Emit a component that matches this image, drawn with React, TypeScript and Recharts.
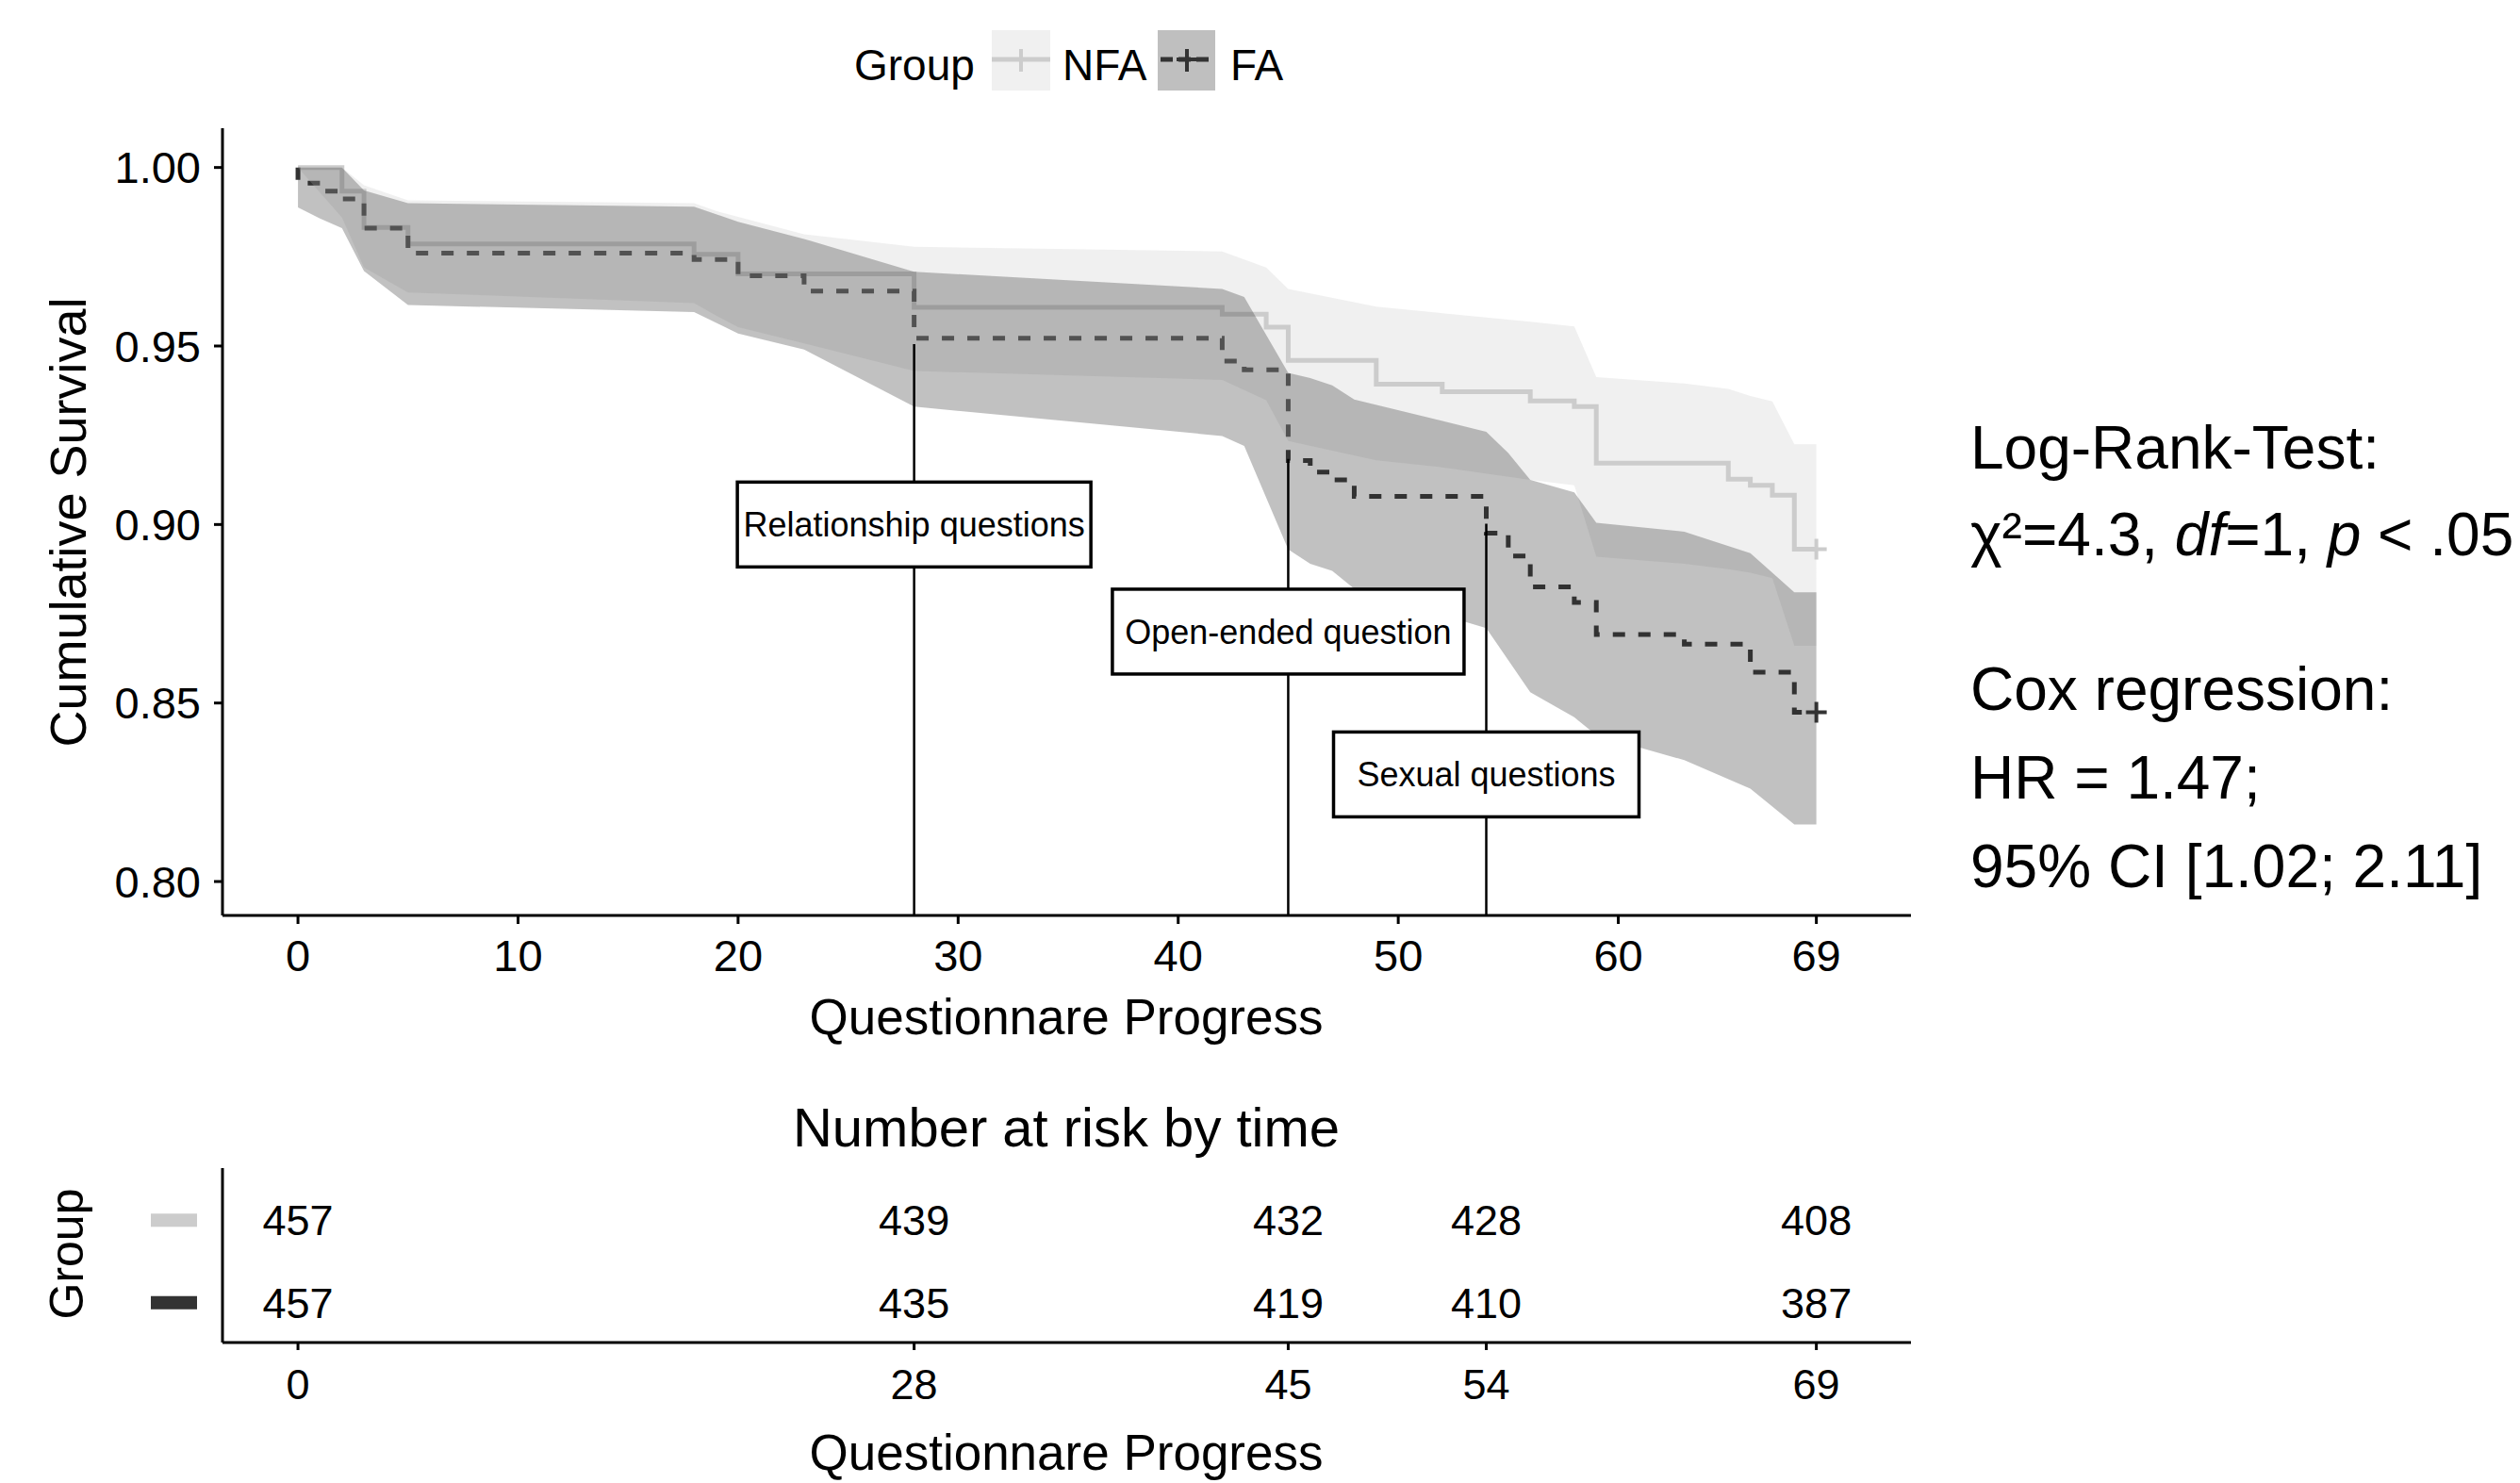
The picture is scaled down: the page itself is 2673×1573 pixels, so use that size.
import React from 'react';
import { ComposedChart, Line, Area, XAxis, YAxis, Scatter, ReferenceLine } from 'recharts';

const FONT = '"Liberation Sans", Arial, Helvetica, sans-serif';

// ---------- Kaplan-Meier step curves ----------
const nfaTimes = [0, 2, 3, 5, 18, 20, 28, 42, 44, 45, 49, 52, 56, 58, 59, 65, 66, 67, 68, 69];
const nfaSurv = [1.0, 0.9934, 0.9832, 0.9786, 0.9757, 0.9702, 0.9608, 0.9589, 0.9553, 0.946, 0.9393, 0.9372, 0.9346, 0.933, 0.9172, 0.9127, 0.911, 0.9082, 0.8931, 0.8931];

const faTimes = [0, 0, 1, 2, 3, 5, 18, 20, 23, 28, 42, 43, 45, 46, 47, 48, 54, 55, 56, 58, 59, 63, 66, 68, 69];
const faSurv = [1.0, 0.9956, 0.9934, 0.9912, 0.983, 0.976, 0.9742, 0.9697, 0.9654, 0.9522, 0.9458, 0.9433, 0.9179, 0.9147, 0.9125, 0.9079, 0.8976, 0.8912, 0.8825, 0.8782, 0.8692, 0.8665, 0.8586, 0.8474, 0.8474];

// ---------- confidence bands ----------
const nfaBandTimes = [0, 2, 3, 5, 18, 19, 20, 23, 28, 42, 44, 45, 49, 52, 56, 58, 59, 63, 65, 66, 67, 68, 69];
const nfaLower = [1.0, 0.986, 0.972, 0.965, 0.962, 0.9585, 0.9553, 0.9507, 0.943, 0.9405, 0.9348, 0.9234, 0.918, 0.916, 0.9125, 0.911, 0.891, 0.889, 0.8875, 0.8865, 0.885, 0.866, 0.866];
const nfaUpper = [1.0, 1.0, 0.995, 0.9908, 0.99, 0.9878, 0.9862, 0.9813, 0.9778, 0.9765, 0.972, 0.966, 0.961, 0.9592, 0.9568, 0.9555, 0.9413, 0.9395, 0.938, 0.936, 0.9345, 0.9225, 0.9225];

const faBandTimes = [0, 1, 2, 3, 5, 18, 20, 23, 28, 42, 43, 45, 46, 47, 48, 54, 55, 56, 58, 59, 63, 66, 68, 69];
const faLower = [0.9888, 0.9857, 0.983, 0.971, 0.9615, 0.9595, 0.9535, 0.949, 0.933, 0.9248, 0.922, 0.893, 0.889, 0.887, 0.882, 0.871, 0.862, 0.853, 0.846, 0.841, 0.834, 0.826, 0.816, 0.816];
const faUpper = [1.0, 1.0, 1.0, 0.9936, 0.99, 0.989, 0.9848, 0.98, 0.9708, 0.966, 0.9637, 0.9425, 0.941, 0.939, 0.935, 0.926, 0.92, 0.9125, 0.909, 0.9005, 0.898, 0.892, 0.881, 0.881];

// ---------- censor marks ----------
const censorNFA = [{ x: 69, y: 0.8931 }];
const censorFA = [{ x: 69, y: 0.8474 }];

// ---------- axes ----------
const xTicks = [0, 10, 20, 30, 40, 50, 60, 69];
const yTicks = [0.8, 0.85, 0.9, 0.95, 1.0];

// ---------- annotations ----------
const annoTimes = [28, 45, 54];
const annoLineTop = [0.9505, 0.9184, 0.9002];
const annoLabelY = [0.9, 0.87, 0.83];
const annoLabels = ['Relationship questions', 'Open-ended question', 'Sexual questions'];

// ---------- number at risk ----------
const riskTimes = [0, 28, 45, 54, 69];
const riskNFA = [457, 439, 432, 428, 408];
const riskFA = [457, 435, 419, 410, 387];

// ---------- layout / style constants ----------
const X_DOMAIN: [number, number] = [-3.43, 73.3];
const Y_DOMAIN: [number, number] = [0.7905, 1.011];
const RISK_Y_DOMAIN: [number, number] = [0.517, 2.632];
const BOX_WIDTHS = [375, 373, 324];
const BOX_HEIGHT = 90;

const nfaLine = nfaTimes.map((t, i) => ({ x: t, s: nfaSurv[i] }));
const faLine = faTimes.map((t, i) => ({ x: t, s: faSurv[i] }));
const nfaBand = nfaBandTimes.map((t, i) => ({ x: t, band: [nfaLower[i], nfaUpper[i]] }));
const faBand = faBandTimes.map((t, i) => ({ x: t, band: [faLower[i], faUpper[i]] }));
const annotations = annoTimes.map((t, i) => ({ x: t, y: annoLabelY[i], label: annoLabels[i], idx: i }));
const riskData = [
  ...riskTimes.map((t, i) => ({ x: t, y: 2, n: riskNFA[i] })),
  ...riskTimes.map((t, i) => ({ x: t, y: 1, n: riskFA[i] })),
];

function LabelBox(props: any) {
  const { cx, cy, payload } = props;
  if (cx == null || cy == null || !payload) return null;
  const w = BOX_WIDTHS[payload.idx] || 340;
  const h = BOX_HEIGHT;
  return (
    <g>
      <rect x={cx - w / 2} y={cy - h / 2} width={w} height={h} fill="#ffffff" stroke="#000000" strokeWidth={3.5} />
      <text x={cx} y={cy} dy="0.355em" textAnchor="middle" fontSize={36} fontFamily={FONT} fill="#000000">
        {payload.label}
      </text>
    </g>
  );
}

const makePlus = (color: string) => (props: any) => {
  const { cx, cy } = props;
  if (cx == null || cy == null) return null;
  return (
    <path d={`M${cx - 11},${cy}H${cx + 11}M${cx},${cy - 11}V${cy + 11}`} stroke={color} strokeWidth={4} fill="none" />
  );
};
const PlusNFA = makePlus('#cccccc');
const PlusFA = makePlus('#333333');

function RiskText(props: any) {
  const { cx, cy, payload } = props;
  if (cx == null || cy == null || !payload) return null;
  return (
    <text x={cx} y={cy} dy="0.355em" textAnchor="middle" fontSize={45} fontFamily={FONT} fill="#000000">
      {payload.n}
    </text>
  );
}

function SwatchTick(props: any) {
  const { x, y, payload } = props;
  const color = payload && payload.value === 2 ? '#cccccc' : '#333333';
  return <rect x={x - 76} y={y - 7} width={49} height={14} fill={color} />;
}

const axisStyle = { stroke: '#000000', strokeWidth: 3 };
const tickText = { fontSize: 47, fill: '#000000', fontFamily: FONT };

export default function App() {
  return (
    <div style={{ position: 'absolute', left: 0, top: 0, width: 2673, height: 1573, background: '#ffffff', overflow: 'hidden', fontFamily: FONT }}>
      <div style={{ position: 'absolute', left: 0, top: 0 }}>
        <ComposedChart width={2673} height={1150} margin={{ top: 136, right: 646, bottom: 119, left: 0 }}>
          <XAxis
            type="number"
            dataKey="x"
            domain={X_DOMAIN}
            allowDataOverflow
            ticks={xTicks}
            interval={0}
            height={60}
            tickSize={9}
            tickMargin={17}
            axisLine={axisStyle}
            tickLine={axisStyle}
            tick={tickText}
          />
          <YAxis
            type="number"
            domain={Y_DOMAIN}
            allowDataOverflow
            ticks={yTicks}
            interval={0}
            width={236}
            tickSize={9}
            tickMargin={14}
            tickFormatter={(v: number) => v.toFixed(2)}
            axisLine={axisStyle}
            tickLine={axisStyle}
            tick={tickText}
          />
          <Line data={nfaLine} dataKey="s" type="stepAfter" stroke="#cccccc" strokeWidth={5} dot={false} activeDot={false} isAnimationActive={false} zIndex={50} />
          <Line data={faLine} dataKey="s" type="stepAfter" stroke="#333333" strokeWidth={5} strokeDasharray="13 14" dot={false} activeDot={false} isAnimationActive={false} zIndex={51} />
          <Area data={nfaBand} dataKey="band" type="linear" fill="#cccccc" fillOpacity={0.3} stroke="none" dot={false} activeDot={false} isAnimationActive={false} zIndex={100} />
          <Area data={faBand} dataKey="band" type="linear" fill="#333333" fillOpacity={0.3} stroke="none" dot={false} activeDot={false} isAnimationActive={false} zIndex={101} />
          {annoTimes.map((t, i) => (
            <ReferenceLine
              key={`ref-${i}`}
              segment={[{ x: t, y: annoLineTop[i] }, { x: t, y: Y_DOMAIN[0] }]}
              stroke="#000000"
              strokeWidth={2.5}
              zIndex={550}
            />
          ))}
          <Scatter data={censorNFA} dataKey="y" shape={PlusNFA} isAnimationActive={false} zIndex={600} />
          <Scatter data={censorFA} dataKey="y" shape={PlusFA} isAnimationActive={false} zIndex={601} />
          <Scatter data={annotations} dataKey="y" shape={LabelBox} isAnimationActive={false} zIndex={700} />
        </ComposedChart>
      </div>

      <div style={{ position: 'absolute', left: 0, top: 1150 }}>
        <ComposedChart width={2673} height={423} margin={{ top: 89, right: 646, bottom: 89, left: 0 }}>
          <XAxis
            type="number"
            dataKey="x"
            domain={X_DOMAIN}
            allowDataOverflow
            ticks={riskTimes}
            interval={0}
            height={60}
            tickSize={8}
            tickMargin={20}
            axisLine={axisStyle}
            tickLine={axisStyle}
            tick={{ fontSize: 45, fill: '#000000', fontFamily: FONT }}
          />
          <YAxis
            type="number"
            domain={RISK_Y_DOMAIN}
            allowDataOverflow
            ticks={[1, 2]}
            interval={0}
            width={236}
            tickSize={0}
            tickMargin={0}
            tickLine={false}
            axisLine={axisStyle}
            tick={<SwatchTick />}
          />
          <Scatter data={riskData} dataKey="y" shape={RiskText} isAnimationActive={false} />
        </ComposedChart>
      </div>

      <svg width={2673} height={1573} style={{ position: 'absolute', left: 0, top: 0, pointerEvents: 'none' }} fontFamily={FONT}>
        {/* legend */}
        <text x={906} y={85} fontSize={46} fill="#000">Group</text>
        <rect x={1052} y={32} width={62} height={64} fill="#f0f0f0" />
        <line x1={1052} y1={63} x2={1114} y2={63} stroke="#cccccc" strokeWidth={5} />
        <path d="M1072,63H1094M1083,52V76" stroke="#cccccc" strokeWidth={4} />
        <text x={1127} y={85} fontSize={46} fill="#000">NFA</text>
        <rect x={1228} y={32} width={61} height={64} fill="#bfbfbf" />
        <line x1={1231} y1={63} x2={1287} y2={63} stroke="#333333" strokeWidth={5} strokeDasharray="13 6" />
        <path d="M1248,63H1270M1259,52V76" stroke="#333333" strokeWidth={4} />
        <text x={1305} y={85} fontSize={46} fill="#000">FA</text>

        {/* main axis titles */}
        <text x={1131} y={1097} fontSize={53} textAnchor="middle" fill="#000">Questionnare Progress</text>
        <text x={91} y={554} fontSize={54} textAnchor="middle" fill="#000" transform="rotate(-90 91 554)">Cumulative Survival</text>

        {/* statistics */}
        <text x={2090} y={497} fontSize={64} fill="#000">Log-Rank-Test:</text>
        <text x={2090} y={589} fontSize={64} fill="#000">
          <tspan>χ²=4.3, </tspan>
          <tspan fontStyle="italic">df</tspan>
          <tspan>=1, </tspan>
          <tspan fontStyle="italic">p</tspan>
          <tspan> &lt; .05</tspan>
        </text>
        <text x={2090} y={753} fontSize={64} fill="#000">Cox regression:</text>
        <text x={2090} y={847} fontSize={64} fill="#000">HR = 1.47;</text>
        <text x={2090} y={941} fontSize={64} fill="#000">95% CI [1.02; 2.11]</text>

        {/* risk table titles */}
        <text x={1131} y={1216} fontSize={58} textAnchor="middle" fill="#000">Number at risk by time</text>
        <text x={88} y={1330} fontSize={50} textAnchor="middle" fill="#000" transform="rotate(-90 88 1330)">Group</text>
        <text x={1131} y={1559} fontSize={53} textAnchor="middle" fill="#000">Questionnare Progress</text>
      </svg>
    </div>
  );
}
